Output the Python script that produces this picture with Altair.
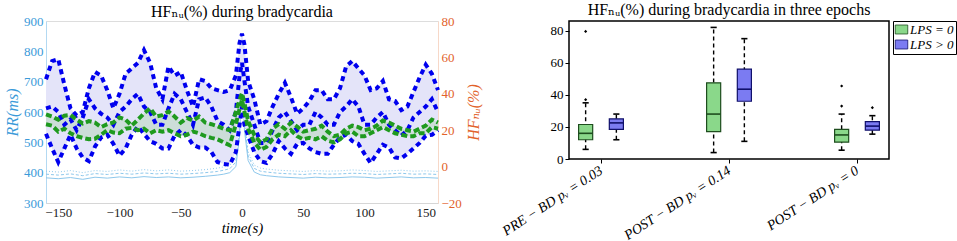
import altair as alt
import pandas as pd

# ---------------- left panel: time series ----------------
t = list(range(-160, 0, 5)) + [-2, 0, 2] + list(range(5, 165, 5))

hf_upper = [48, 58, 59, 45, 32, 28, 30, 43, 52, 50, 42, 32, 40, 51, 54, 57, 64, 57, 43, 37, 55, 50, 52, 42,
            33, 48, 47, 43, 42, 41, 42, 50,
            68, 73, 67,
            47, 37, 23, 25, 33, 40, 46, 38, 29, 32, 36, 42, 42, 37, 37, 43, 55, 58, 54, 50, 42, 43, 47, 37,
            36, 31, 33, 41, 49, 56, 51, 42]
hf_middle = [32, 33, 30, 23, 26, 20, 27, 37, 32, 29, 27, 23, 30, 33, 37, 40, 33, 30, 23, 23, 32, 40, 37, 30,
             23, 37, 38, 33, 25, 23, 20, 30,
             50, 57, 47,
             33, 23, 13, 13, 20, 27, 30, 25, 20, 23, 23, 30, 27, 23, 23, 30, 33, 37, 33, 23, 23, 27, 30, 23,
             20, 17, 20, 27, 30, 33, 37, 30]
hf_lower = [18, 10, 2.5, 10, 17.5, 10, 5, 3, 11, 16, 17.5, 12.5, 6, 10, 17.5, 22, 18, 14, 12.5, 10, 10, 17,
            20, 17, 12, 10.5, 10.5, 8, 2.5, 1.5, 1, 8,
            23, 33, 23,
            17, 8, 3, 2, 7, 14, 10, 7, 12.5, 13, 10, 8, 7, 7, 12, 16, 17.5, 14, 12.5, 7, 2, 7, 12, 10.5,
            5, 4.5, 7, 10, 13, 17, 17.5, 20]
hf_green_a = [28.7, 27.5, 25.8, 28, 28.3, 25.8, 23.7, 25, 24.2, 21.7, 23.3, 24.2, 27, 25.8, 22.5, 25.8,
              29.2, 32, 27.5, 28.3, 30.3, 27.5, 24.2, 26.7, 25.3, 27.5, 24.2, 23.3, 22.2, 20.8, 20, 30,
              36.7, 40.3, 35,
              25, 17.5, 13.3, 15, 20.8, 23.3, 20.8, 24.2, 22, 19.2, 20, 20.8, 22.5, 19.2, 16.7, 17.5,
              20.8, 22.5, 21.7, 20, 20.8, 22.5, 25.3, 24.2, 22.5, 20.8, 20, 19.2, 20.8, 22.5, 25.8, 24.2]
hf_green_b = [23.3, 22.5, 19.2, 20.8, 18.3, 16.7, 15.8, 15, 15.3, 17.5, 20, 18.7, 18.3, 20.8, 21.3, 20,
              20.8, 18.3, 20, 19.2, 20, 18.3, 16.7, 17.5, 19.2, 18.3, 16.7, 15.8, 15, 13.3, 11.7, 23.3,
              31.7, 36.7, 30,
              20.8, 13.3, 9.2, 10.8, 15, 17.5, 16.7, 20, 16.7, 15, 15.8, 15, 16.7, 14.2, 13.3, 15, 18.3,
              19.2, 16.7, 16.7, 18.3, 20, 21.7, 20, 18.3, 17.5, 16.7, 16.7, 18.3, 18.3, 21.7, 20.8]

t_rr = [-160, -150, -140, -130, -120, -110, -100, -90, -80, -70, -60, -50, -40, -30, -20, -15, -10, -5, -2,
        0, 2, 5, 10, 15, 20, 30, 40, 50, 60, 70, 80, 90, 100, 110, 120, 130, 140, 150, 160]
rr_solid = [383, 380, 384, 378, 385, 382, 386, 383, 387, 384, 386, 383, 385, 388, 392, 395, 400, 420, 520,
            700, 540, 440, 402, 393, 390, 386, 384, 382, 385, 383, 384, 386, 385, 382, 384, 386, 383, 384, 382]
rr_dashed = [395, 392, 396, 390, 397, 394, 398, 395, 399, 396, 398, 395, 397, 400, 404, 408, 413, 435, 540,
             720, 560, 455, 414, 405, 402, 398, 396, 394, 397, 395, 396, 398, 397, 394, 396, 398, 395, 396, 394]
rr_dotted = [405, 402, 407, 400, 407, 404, 409, 405, 410, 406, 409, 405, 407, 410, 415, 419, 424, 448, 560,
             740, 580, 468, 425, 415, 412, 408, 406, 404, 407, 405, 406, 409, 407, 404, 406, 408, 405, 406, 404]

# ---------------- right panel: box plots ----------------
epochs = ["PRE − BD pᵥ = 0.03", "POST − BD pᵥ = 0.14", "POST − BD pᵥ = 0"]
groups = ["LPS = 0", "LPS > 0"]
box_lo = [6, 12, 4, 11, 5.5, 15.5]
box_q1 = [12, 18.5, 17, 36, 10.5, 18]
box_med = [16, 22.5, 28, 43.5, 15, 20.5]
box_q3 = [21.5, 25, 47.5, 56, 18.5, 23.3]
box_hi = [35, 28, 82, 75, 28, 27]
out_epoch = [0, 0, 2, 2, 2]
out_group = [0, 0, 0, 0, 1]
out_val = [37, 79.5, 33, 45.5, 32]

SERIF = "Liberation Serif, Times New Roman, DejaVu Serif, serif"
BLUE_AX = "#3a9ad9"
ORANGE = "#e2622a"
RR_COL = "#8ec8ec"

hf_df = pd.DataFrame({"t": t, "upper": hf_upper, "middle": hf_middle, "lower": hf_lower,
                      "ga": hf_green_a, "gb": hf_green_b})
rr_df = pd.DataFrame({"t": t_rr, "solid": rr_solid, "dashed": rr_dashed, "dotted": rr_dotted})

x_left = alt.X("t:Q", title="time(s)",
               scale=alt.Scale(domain=[-160, 160], nice=False, zero=False),
               axis=alt.Axis(values=[-150, -100, -50, 0, 50, 100, 150], ticks=False, grid=False,
                             domainColor="#d6d6d6", labelColor="#222222", labelFontSize=13,
                             titleFontSize=15, titleFontStyle="italic", titleFontWeight="normal",
                             labelFont=SERIF, titleFont=SERIF, titlePadding=1, labelPadding=3))

rr_scale = alt.Scale(domain=[300, 900], nice=False, zero=False)
rr_axis = alt.Axis(values=list(range(300, 901, 100)), orient="left", ticks=False, grid=False,
                   labelColor=BLUE_AX, titleColor=BLUE_AX, domainColor="#b3d9f2", labelFontSize=13,
                   titleFontSize=16, titleFontStyle="italic", titleFontWeight="normal",
                   labelFont=SERIF, titleFont=SERIF, titlePadding=3, labelPadding=3)


def rr_line(field, dash):
    kw = dict(color=RR_COL, strokeWidth=1)
    if dash:
        kw["strokeDash"] = dash
    return alt.Chart(rr_df).mark_line(**kw).encode(
        x=x_left, y=alt.Y(f"{field}:Q", scale=rr_scale, axis=rr_axis, title="RR(ms)"))


rr_layer = alt.layer(rr_line("solid", None), rr_line("dashed", [3, 2]), rr_line("dotted", [1, 2]))

hf_scale = alt.Scale(domain=[-20, 80], nice=False, zero=False)
hf_axis = alt.Axis(values=[-20, 0, 20, 40, 60, 80], orient="right", ticks=False, grid=False,
                   labelColor=ORANGE, titleColor=ORANGE, domainColor="#f7d8c8", labelFontSize=13,
                   titleFontSize=16, titleFontStyle="italic", titleFontWeight="normal", titleAngle=270,
                   titleBaseline="top", labelFont=SERIF, titleFont=SERIF, titlePadding=4, labelPadding=3)
HF_T = "HFₙᵤ(%)"


def hf_y(field):
    return alt.Y(f"{field}:Q", scale=hf_scale, axis=hf_axis, title=HF_T)


lav = alt.Chart(hf_df).mark_area(color="#e4e4f9", opacity=1).encode(x=x_left, y=hf_y("lower"), y2="upper:Q")
gband = alt.Chart(hf_df).mark_area(color="#c9dcd4", opacity=0.9).encode(x=x_left, y=hf_y("gb"), y2="ga:Q")


def hf_line(field, color, width, dash):
    return alt.Chart(hf_df).mark_line(color=color, strokeWidth=width, strokeDash=dash).encode(
        x=x_left, y=hf_y(field))


hf_layer = alt.layer(
    lav, gband,
    hf_line("upper", "#0000ee", 4, [5, 4]),
    hf_line("middle", "#0000ee", 4, [5, 4]),
    hf_line("lower", "#0000ee", 4, [5, 4]),
    hf_line("ga", "#1f9a1f", 4, [6, 3]),
    hf_line("gb", "#1f9a1f", 4, [6, 3]),
)

left = alt.layer(rr_layer, hf_layer).resolve_scale(y="independent").properties(
    width=392, height=182,
    title=alt.TitleParams("HFₙᵤ(%) during bradycardia", font=SERIF, fontSize=16,
                          fontWeight="normal", anchor="middle", offset=2, dy=7))

# ---------------- right panel build ----------------
GROUP_OFF = 0.12
BOX_HALF = 0.055
CAP_HALF = 0.024
rows = []
for i, ep in enumerate(epochs):
    for j, g in enumerate(groups):
        k = i * 2 + j
        pos = i + 1 + (2 * j - 1) * GROUP_OFF
        rows.append(dict(epoch=ep, group=g, pos=pos, left=pos - BOX_HALF, right=pos + BOX_HALF,
                         cl=pos - CAP_HALF, cr=pos + CAP_HALF, lo=box_lo[k], q1=box_q1[k],
                         med=box_med[k], q3=box_q3[k], hi=box_hi[k]))
box_df = pd.DataFrame(rows)
out_df = pd.DataFrame({
    "group": [groups[g] for g in out_group],
    "pos": [e + 1 + (2 * g - 1) * GROUP_OFF for e, g in zip(out_epoch, out_group)],
    "val": out_val,
})

label_expr = "['', " + ", ".join(f"'{e}'" for e in epochs) + "][datum.value]"
x_scale_r = alt.Scale(domain=[0.75, 3.25], nice=False, zero=False)
x_axis_r = alt.Axis(values=[1, 2, 3], labelExpr=label_expr, labelAngle=327, labelAlign="right",
                    labelBaseline="middle", labelFont=SERIF, labelFontSize=14, labelFontStyle="italic",
                    labelColor="black", tickColor="black", tickSize=4, domain=False, grid=False,
                    labelPadding=6, labelLimit=300)
y_scale_r = alt.Scale(domain=[0, 86], nice=False, zero=False)
y_axis_r = alt.Axis(values=[0, 20, 40, 60, 80], labelFont=SERIF, labelFontSize=13, labelColor="black",
                    tickColor="black", tickSize=4, domain=False, grid=False, labelPadding=2)


def xr(field):
    return alt.X(f"{field}:Q", scale=x_scale_r, axis=x_axis_r, title=None)


def yr(field):
    return alt.Y(f"{field}:Q", scale=y_scale_r, axis=y_axis_r, title=None)


fill_scale = alt.Scale(domain=groups, range=["#8ad88a", "#7b7bf2"])
edge_scale = alt.Scale(domain=groups, range=["#1e4d1e", "#10106b"])
base = alt.Chart(box_df)
whisk = base.mark_rule(color="black", strokeWidth=1.4, strokeDash=[4, 3]).encode(
    x=xr("pos"), y=yr("lo"), y2="hi:Q")
cap_lo = base.mark_rule(color="black", strokeWidth=1.6).encode(x=xr("cl"), x2="cr:Q", y=yr("lo"))
cap_hi = base.mark_rule(color="black", strokeWidth=1.6).encode(x=xr("cl"), x2="cr:Q", y=yr("hi"))
boxes = base.mark_bar(strokeWidth=1.2).encode(
    x=xr("left"), x2="right:Q", y=yr("q1"), y2="q3:Q",
    color=alt.Color("group:N", scale=fill_scale, title=None,
                    legend=alt.Legend(orient="right", offset=3, strokeColor="black", padding=2,
                                      symbolType="M-1.4,-1H1.4V1H-1.4Z", symbolSize=80,
                                      symbolStrokeColor="#444", symbolStrokeWidth=0.8,
                                      symbolOpacity=1, labelFont=SERIF, labelFontSize=13,
                                      labelFontStyle="italic", labelColor="black", rowPadding=1,
                                      labelOffset=2, fillColor="white")),
    stroke=alt.Stroke("group:N", scale=edge_scale, legend=None))
meds = base.mark_rule(strokeWidth=1.6).encode(
    x=xr("left"), x2="right:Q", y=yr("med"), stroke=alt.Stroke("group:N", scale=edge_scale, legend=None))
outs = alt.Chart(out_df).mark_point(filled=True, color="black", size=10, shape="diamond", opacity=1).encode(
    x=xr("pos"), y=yr("val"))

right = alt.layer(whisk, cap_lo, cap_hi, boxes, meds, outs).properties(
    width=320, height=138,
    view=alt.ViewBackground(stroke="black", strokeWidth=1.5),
    title=alt.TitleParams("HFₙᵤ(%) during bradycardia in three epochs", font=SERIF, fontSize=16,
                          frame="group", fontWeight="normal", anchor="middle", offset=3))

chart = alt.hconcat(left, right, spacing=131, bounds="flush").properties(
    padding={"left": 4, "top": 1, "right": 0, "bottom": 0}
).configure_view(stroke=None).configure(background="white")

chart.save("out.html", embed_options={"renderer": "svg", "actions": False})
